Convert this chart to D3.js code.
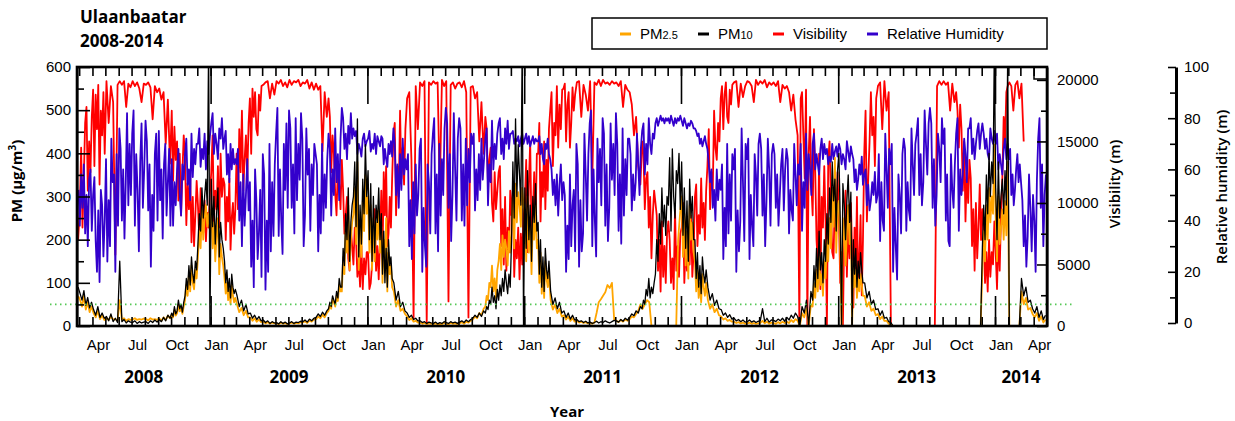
<!DOCTYPE html>
<html>
<head>
<meta charset="utf-8">
<style>
body { margin: 0; background: #fff; }
svg { font-family: "Liberation Sans", Arial, sans-serif; }
.axis text { font-size: 15px; fill: #000; font-family: "Liberation Sans", Arial, sans-serif; }
.axis path, .axis line { stroke: #000; stroke-width: 1.6; }
.bold { font-family: "Open Sans", "DejaVu Sans", sans-serif; font-weight: 700; }
.series { fill: none; stroke-linejoin: round; }
</style>
</head>
<body>
<svg width="1235" height="421"></svg>
<script src="https://d3js.org/d3.v7.min.js"></script>
<script>

// one inner array per month, Feb 2008 .. Apr 2014 (values spread evenly through the month)
var visibility = [
  // 2008
  [null,null,null,null,null,7000],[9500,14500,8000,12000,16500,17800,11000,15000,12500,17000],
  [19200,13000,18800,16000,19600,11500,17500,15500,19000,14000],
  [19900,16500,19500,18200,5800,19600],[19900,19600,19900,17800,19700,19400],[19900,19500,19800,19300,18200,19700],
  [19600,19800,19400,16800,19500,19000],[19300,18400,19000,14800,18400,13200],
  [17500,11800,16200,13500,15000,10200,14000,9000,12500,15500],
  [13600,8200,11600,9500,12200,6800,10500,6500,9000,11800],
  [9800,7200,11200,8500,7600,10200,6900,9200,8000,10800],
  // 2009
  [12500,15500,8500,11000,9500,13000,8000,14000,10500,12000],[11500,7000,10500,8500,12000,6200,8800,10000,7500,9500],
  [14000,9500,16000,12500,17500,11000,13500,15500,12000,16500],[18500,14000,19300,17000,19000,16000,15500,18800,17500,19500],
  [19600,19800,19900,18500,19700,18800],[19900,19700,20000,19500,19800,19400],
  [20000,19600,19900,19800,20000,19500],[19800,19700,20000,19300,19800,19200],[19700,19200,19500,14200,19000,17000],
  [18500,17000,12500,15500,14000,10800,9000,13000,11500,9500],[13500,11000,7500,9000,10500,5500,4500,8000,6500,5000],
  [8000,7000,4000,5500,3200,6500,3000,5500,4200,6000],
  // 2010
  [6000,3000,3500,5000,8000,9500,4500,6500,3800,7000],[11000,5500,12500,9000,13000,6500,7500,10500,8000,12000],
  [15500,16500,9000,13000,10500,17500,12000,14500,11500,16000],
  [18500,19000,13500,600,19500,16000],[19800,19500,19900,200,19800,19600],[19900,19700,19800,11000,20000,19500],
  [19900,2000,19600,19800,19300,19700],[19800,19400,19900,19000,700,19400],[19500,18500,19000,15000,18200,14000],
  [17000,16000,11500,13500,14500,10000,8500,12500,9500,11000],[12500,13000,6500,9500,5000,10500,4500,8000,6000,11000],
  [9000,11000,4000,7000,5500,8000,3800,7500,5000,9500],
  // 2011
  [10000,13500,6000,11500,15000,7500,9000,12500,8000,14000],[14000,16500,8500,12500,10500,15000,9500,13500,11000,16000],
  [17500,19000,13000,16500,15500,19500,14500,18000,16000,19200],[19300,19700,15000,18000,19000,14500,16500,19400,17500,18800],
  [19800,19900,17000,19600,18800,17500],[19900,12000,19800,19600,20000,19500],
  [20000,19700,19800,19600,19900,19700],[19800,19500,19900,17800,19600,19200],[19000,18000,15500,17000,13000,11500],
  [15000,14000,9500,12000,12500,8000,10500,5500,9000,11000],[10000,9000,4500,7000,2800,8500,4000,6500,3500,7500],
  [8500,7000,3500,5500,3000,9500,4500,6500,4000,7500],
  // 2012
  [8000,10000,3500,6500,4500,7500,5000,9000,4000,6000],[10500,11500,6500,9000,7500,12000,8000,10000,7000,11000],
  [13000,16000,9500,12500,11000,17500,14500,13500,16500,15000],[18500,19500,16000,18800,19800,17000,16500,19200,18000,19600],
  [19800,19900,17800,19700,18600,19500],[19900,19800,19500,18200,20000,19600],
  [19900,19700,20000,19400,19800,19600],[19800,19500,19900,18200,19600,19300],[19500,19000,17500,18800,16800,15500],
  [0,18500,19000,15500,12000,19200,0,14000,17000,11500],[9000,16000,12500,7000,5000,14000,3000,10500,8000,13000],
  [8500,0,13500,15000,10000,6000,5500,11000,7500,12500],
  // 2013
  [9000,3500,6000,0,7500,11000,4000,8500,5500,10000],[6000,1500,8000,4500,10500,3000,5500,9000,2500,7000],
  [14000,17500,8500,12000,15000,19000,15500,17000,13000,18500],[19500,19800,16000,19900,17500,19000],
  [0,0,0,0,0,0],[0,0,0,0,0,0],[0,0,0,0,0,0],[0,0,0,19500,19900,19600],[19900,19600,19800,17500,19700,18200],
  [19000,17500,14500,18000,16000,11000,15000,8500,12500,10000],[13500,12000,6500,9500,4500,10000,5500,8000,11500,7000],
  [9500,8000,3500,6000,2800,7000,4000,6000,5000,8500],
  // 2014
  [6000,3000,7500,4500,9000,12000,17000,15000,19000,19500],[19800,19500,17500,19600,19900,18500],
  [19700,15000,null,null,null,null],[null,null,null,null,null,null]
];

var humidity = [
  // 2008
  [null,null,null,null,null,null,null,null,null,52],[38,58,45,62,35,50,30,56,60,36],[50,57,32,20,44,16,52,46,26,40],
  [64,24,48,30,72,55,58,20,66,38],[76,68,40,60,33,55,82,46,70,50],[74,83,38,66,52,28,63,78,45,60],
  [79,71,44,62,22,50,36,66,74,40],[75,48,60,33,62,70,42,55,68,38],[64,38,55,46,60,68,50,42,62,56],
  [66,72,54,60,48,74,57,68,62,70],[70,76,61,68,64,74,60,71,66,73],
  // 2009
  [78,82,66,74,70,64,76,72,80,68],[72,75,58,66,55,70,60,68,62,64],[62,68,40,55,30,58,38,50,64,44],
  [55,22,40,14,60,48,25,35,52,18],[66,58,13,40,20,70,28,55,34,62],[74,84,34,60,40,27,70,52,78,45],
  [83,76,45,62,35,80,48,70,56,82],[72,30,42,76,58,68,36,62,50,70],[66,62,28,50,35,70,40,58,45,64],
  [74,68,42,60,50,76,55,66,48,72],[84,80,68,74,64,77,70,82,72,76],[73,75,66,70,68,65,72,74,69,71],
  // 2010
  [72,75,67,70,68,74,66,73,71,69],[73,72,62,68,64,61,70,66,71,65],[76,70,50,62,45,66,52,72,58,64],
  [60,66,30,48,25,55,35,62,42,50],[68,72,20,45,30,22,62,55,35,66],[74,80,35,58,28,70,42,64,50,76],
  [84,78,45,66,32,50,82,60,40,72],[80,76,40,62,38,72,46,68,55,74],[70,74,44,60,48,66,52,72,56,64],
  [72,76,46,62,55,79,60,70,64,74],[78,80,66,72,64,76,70,79,68,74],[74,75,70,72,71,73,69,72,74,70],
  // 2011
  [72,74,70,73,69,71,73,70,72,71],[71,73,66,70,64,62,70,68,72,66],[64,60,50,56,46,58,42,54,62,48],
  [55,50,20,38,25,58,30,46,52,28],[70,62,22,48,28,35,74,58,40,66],[78,83,30,60,40,26,72,55,68,46],
  [80,74,38,62,32,45,78,56,70,50],[82,70,36,58,31,76,42,64,50,72],[72,66,44,58,48,55,74,62,50,68],
  [75,78,58,70,62,80,70,66,74,72],[78,80,77,79,81,79,80,78,80,79],[80,78,81,79,77,80,78,80,79,81],
  // 2012
  [79,77,80,78,76,78,77,79,78,76],[76,75,73,74,70,72,69,71,73,70],[68,62,55,60,45,52,40,60,48,56],
  [52,62,25,45,30,70,35,58,40,66],[60,68,20,44,28,40,76,55,32,70],[64,72,25,50,38,30,66,58,42,70],
  [74,68,42,58,30,48,72,60,38,66],[70,66,45,58,38,50,62,68,44,60],[68,64,35,52,44,40,70,58,46,62],
  [58,70,36,55,45,74,52,66,60,50],[70,74,60,66,62,58,68,72,64,70],[66,68,62,65,63,70,64,67,69,65],
  // 2013
  [70,68,62,66,64,60,71,67,63,69],[66,64,55,60,52,56,62,58,65,54],[58,60,46,54,44,48,55,50,59,47],
  [50,66,32,55,40,36,74,60,45,68],[62,70,20,45,30,17,58,50,35,66],[72,68,36,55,44,40,76,62,50,70],
  [74,80,50,66,46,55,83,70,58,78],[84,78,45,64,38,50,74,68,55,80],[70,76,40,58,32,30,66,52,45,62],
  [74,80,36,60,50,58,72,66,55,76],[76,80,66,72,64,70,75,78,68,74],[78,74,68,72,66,64,76,72,70,75],
  // 2014
  [70,74,60,66,62,58,68,72,64,70],[64,68,50,58,46,52,60,66,55,62],[55,48,30,42,22,34,58,45,28,50],
  [40,20,56,72,80,45,62,30,50,58]
];

var pm10 = [
  // 2008
  [null,null,null,null,null,90],[75,60,82,48,66,42,55],[38,25,45,20,30,18],
  [22,12,28,10,18,8],[150,10,15,7,12,9],[8,12,6,10,7,9],
  [10,6,12,8,14,9],[15,10,20,12,25,18],[30,22,45,28,35,60,40,50,32,55],
  [70,110,85,140,95,160,120,100,150,130],[190,260,220,320,250,300,340,280,650,0],
  // 2009
  [340,230,300,190,260,320,160,240,200,180],[150,100,130,80,110,65,120,90,75,85],[70,45,60,35,50,28],
  [30,18,25,15,22,12],[14,8,12,6,10,7],[8,5,10,6,9,5],
  [7,10,6,9,8,11],[10,14,9,16,12,18],[20,28,22,32,25,35],
  [40,55,45,70,60,50,80,65,110,90],[90,180,140,260,200,320,150,240,280,300],[380,230,480,160,280,190,340,260,420,300],
  // 2010
  [360,200,330,150,300,170,280,240,320,200],[260,120,220,100,180,90,200,140,160,110],[100,60,80,45,55,35],
  [30,20,25,15,18,12],[12,8,10,6,9,7],[6,9,5,8,6,10],
  [8,6,10,7,9,6],[9,12,8,14,10,15],[18,25,20,30,22,35],
  [30,45,38,60,50,90,55,70,40,85],[60,95,70,110,80,130,100,75,120,90],[200,380,250,480,300,420,350,280,650,0],
  // 2011
  [320,180,360,200,280,150,300,240,330,220],[240,120,200,90,160,80,180,130,110,150],[80,50,65,40,55,30],
  [35,20,30,16,25,14],[15,10,12,8,11,7],[9,6,8,11,7,10],
  [8,12,9,7,10,13],[12,9,15,11,18,14],[20,28,24,35,30,45],
  [40,60,50,85,70,110,65,90,75,100],[120,200,150,260,190,320,230,280,210,300],[280,390,220,410,300,250,360,330,400,270],
  // 2012
  [380,210,320,180,290,150,340,250,300,200],[200,110,170,90,140,75,160,120,100,130],[90,60,75,48,60,40],
  [38,25,30,20,26,16],[18,12,15,10,14,9],[10,14,9,12,8,11],
  [12,40,10,18,9,14],[13,10,16,12,18,11],[20,14,25,18,30,22],
  [0,45,30,60,0,80],[60,140,90,180,110,220,130,170,100,200],[150,260,190,320,240,380,290,340,220,360],
  // 2013
  [400,250,0,330,280,200,290,350,240,310],[0,200,120,180,90,150,110,170,130,100],[100,65,80,50,60,38],
  [40,25,35,18,20,10],[8,0,0,0,0,0],[0,0,0,0,0,0],
  [0,0,0,0,0,0],[0,0,0,0,0,0],[0,0,0,0,0,0],
  [0,0,0,0,0,0],[0,0,0,0,0,0],[180,280,200,350,260,400,300,380,330,650],
  // 2014
  [320,200,380,250,300,340,260,360,280,620],[0,0,0,0,0,0],[110,70,90,55,60,40],
  [30,45,20,35,15,25]
];

var pm25 = [
  // 2008
  [null,null,null,null,null,70],[60,45,70,38,55,32,45],[30,20,35,16,24,14],
  [18,14,22,15,16,12],[60,14,18,12,16,14],[15,18,14,16,15,17],
  [16,13,18,15,16,14],[18,12,20,14,24,18],[26,20,38,24,30,50,34,42,28,45],
  [60,95,70,120,80,140,100,85,130,110],[160,220,180,270,200,250,280,230,260,220],
  // 2009
  [270,180,240,150,210,250,120,190,160,140],[110,75,100,60,85,50,95,70,55,65],[50,32,42,25,35,20],
  [20,12,18,10,15,9],[10,6,9,5,8,6],[6,4,8,5,7,4],
  [6,8,5,7,6,9],[8,11,7,13,10,15],[16,22,18,26,20,30],
  [35,48,40,62,55,45,70,58,95,80],[80,160,120,230,170,280,130,200,240,260],[320,190,380,130,240,160,290,220,350,260],
  // 2010
  [300,170,280,130,250,150,240,200,270,170],[230,100,200,130,250,80,170,120,140,90],[80,45,60,35,40,28],
  [22,14,18,10,12,8],[8,5,7,4,6,5],[4,6,3,5,4,7],
  [5,4,7,5,6,4],[6,9,5,10,8,12],[15,22,18,30,25,40],
  [45,70,60,100,90,140,80,110,65,130],[150,190,130,210,160,200,180,140,220,170],[220,300,180,330,240,310,280,230,320,280],
  // 2011
  [260,150,300,170,230,120,250,200,280,180],[200,100,170,75,130,65,150,110,90,120],[60,38,50,30,40,22],
  [25,15,22,12,18,10],[12,8,10,7,9,6],[7,5,8,30,55,62],
  [70,78,95,88,100,15],[12,9,14,10,15,12],[16,22,20,28,35,50],
  [40,50,60,55,0,0],[0,0,0,0,0,0],[0,0,0,0,0,200,260],
  // 2012
  [300,160,260,140,220,110,280,200,240,170],[150,80,130,65,100,55,120,90,70,100],[60,40,50,32,40,25],
  [22,15,18,12,14,10],[10,7,9,6,8,5],[6,8,5,7,5,6],
  [7,12,6,10,5,8],[7,5,9,6,10,7],[10,7,14,9,16,12],
  [0,30,20,40,0,50],[45,100,65,130,80,160,95,120,70,150],[110,200,150,250,180,320,230,390,170,280],
  // 2013
  [290,180,0,250,220,140,220,280,190,240],[0,150,90,130,65,110,80,120,95,70],[70,45,55,35,40,25],
  [28,16,22,12,12,5],[4,0,0,0,0,0],[0,0,0,0,0,0],
  [0,0,0,0,0,0],[0,0,0,0,0,0],[0,0,0,0,0,0],
  [0,0,0,0,0,0],[0,0,0,0,0,0],[130,220,150,280,200,320,240,300,260,420],
  // 2014
  [250,150,300,190,230,270,200,290,210,380],[0,0,0,0,0,0],[80,50,65,38,42,28],
  [20,30,12,22,8,15]
];

var pmTicks = [0, 100, 200, 300, 400, 500, 600];
var visTicks = [0, 5000, 10000, 15000, 20000];
var rhTicks = [0, 20, 40, 60, 80, 100];
var labelMonths = [0, 3, 6, 9];
var labelNames = ["Jan", "Apr", "Jul", "Oct"];
var years = [2008, 2009, 2010, 2011, 2012, 2013, 2014];
var legendItems = [
  {name: "PM", sub: "2.5", color: "#ffa500", x: 620},
  {name: "PM", sub: "10", color: "#000000", x: 698},
  {name: "Visibility", sub: "", color: "#ff0000", x: 773},
  {name: "Relative Humidity", sub: "", color: "#3300cc", x: 867}
];

var svg = d3.select("svg"),
    margin = {top: 67, right: 188, bottom: 95, left: 77},
    width = 1235 - margin.left - margin.right,
    height = 421 - margin.top - margin.bottom;

var months = d3.timeMonth.range(new Date(2008, 1, 1), new Date(2014, 4, 1));

var x = d3.scaleTime()
    .domain([new Date(2008, 1, 25), new Date(2014, 4, 2)])
    .range([0, width]);
var y = d3.scaleLinear().domain([0, 600]).range([height, 0]);
var yVis = d3.scaleLinear().domain([0, 21050]).range([height, 0]);
var yRH = d3.scaleLinear().domain([0, 100]).range([height - 3, 0]);

function toPoints(series) {
  var pts = [];
  months.forEach(function(m, i) {
    var vals = series[i], next = d3.timeMonth.offset(m, 1);
    vals.forEach(function(v, k) {
      pts.push({date: new Date(+m + (k + 0.5) / vals.length * (next - m)), value: v});
    });
  });
  return pts;
}

var g = svg.append("g").attr("transform", "translate(" + margin.left + "," + margin.top + ")");

g.append("clipPath").attr("id", "plot")
  .append("rect").attr("width", width).attr("height", height);

var plot = g.append("g").attr("clip-path", "url(#plot)");

function drawLine(series, scale, color, w) {
  var line = d3.line()
      .defined(function(d) { return d.value != null; })
      .x(function(d) { return x(d.date); })
      .y(function(d) { return scale(d.value); });
  plot.append("path")
      .datum(toPoints(series))
      .attr("class", "series")
      .attr("stroke", color)
      .attr("stroke-width", w)
      .attr("d", line);
}

drawLine(visibility, yVis, "#ff0000", 1.8);
drawLine(humidity, yRH, "#3300cc", 1.8);
drawLine(pm25, y, "#ffa500", 1.8);
drawLine(pm10, y, "#000000", 1.3);

// 50 ug/m3 guideline
g.append("line")
    .attr("x1", -27).attr("x2", 995)
    .attr("y1", y(50)).attr("y2", y(50))
    .attr("stroke", "#55c855").attr("stroke-width", 1.6)
    .attr("stroke-dasharray", "1.5,3.5");

// frame
g.append("rect")
    .attr("width", width).attr("height", height)
    .attr("fill", "none").attr("stroke", "#000").attr("stroke-width", 2.6);
g.append("rect")
    .attr("x", width - 13).attr("y", 0).attr("width", 13).attr("height", 12)
    .attr("fill", "none").attr("stroke", "#000").attr("stroke-width", 1.5);

// time ticks, top and bottom
function timeTicks(axisFn, yPos, interval, size) {
  g.append("g").attr("class", "axis")
      .attr("transform", "translate(0," + yPos + ")")
      .call(axisFn(x).ticks(interval).tickSize(-size).tickSizeOuter(0).tickFormat(""))
      .call(function(a) { a.select(".domain").remove(); });
}
timeTicks(d3.axisTop, 0, d3.timeMonth.every(1), 9);
timeTicks(d3.axisTop, 0, d3.timeYear.every(1), 37);
timeTicks(d3.axisBottom, height, d3.timeMonth.every(1), 9);
timeTicks(d3.axisBottom, height, d3.timeYear.every(1), 30);

// month labels
var labelDates = months.filter(function(m) { return labelMonths.indexOf(m.getMonth()) >= 0; })
    .map(function(m) { return new Date(m.getFullYear(), m.getMonth(), 15); })
    .filter(function(d) { return x(d) > 0 && x(d) < width; });
g.append("g").selectAll("text")
  .data(labelDates).enter().append("text")
    .attr("x", function(d) { return x(d); })
    .attr("y", height + 24)
    .attr("text-anchor", "middle")
    .style("font-size", "15px")
    .text(function(d) { return labelNames[labelMonths.indexOf(d.getMonth())]; });

// year labels centred on the visible part of each year
g.append("g").selectAll("text")
  .data(years).enter().append("text")
    .attr("class", "bold")
    .attr("x", function(yr) {
      var a = Math.max(0, x(new Date(yr, 0, 1))), b = Math.min(width, x(new Date(yr + 1, 0, 1)));
      return (a + b) / 2;
    })
    .attr("y", height + 57)
    .attr("text-anchor", "middle")
    .style("font-size", "17px")
    .text(function(d) { return d; });

g.append("text").attr("class", "bold")
    .attr("x", 490).attr("y", height + 91)
    .attr("text-anchor", "middle").style("font-size", "15px")
    .text("Year");

// left PM axis
g.append("g").attr("class", "axis")
    .call(d3.axisLeft(y).tickValues(pmTicks).tickSize(-13).tickSizeOuter(0).tickPadding(6));
g.append("g").attr("class", "axis")
    .call(d3.axisLeft(y).tickValues([50, 150, 250, 350, 450, 550]).tickSize(-7).tickSizeOuter(0).tickFormat(""));

// right visibility axis
g.append("g").attr("class", "axis")
    .attr("transform", "translate(" + width + ",0)")
    .call(d3.axisRight(yVis).tickValues(visTicks).tickSize(-10).tickSizeOuter(0).tickPadding(10)
      .tickFormat(d3.format("d")));
g.append("g").attr("class", "axis")
    .attr("transform", "translate(" + width + ",0)")
    .call(d3.axisRight(yVis).tickValues([2500, 7500, 12500, 17500]).tickSize(-6).tickSizeOuter(0).tickFormat(""));

// separate humidity axis
var rhAxis = g.append("g").attr("class", "axis")
    .attr("transform", "translate(1099,0)")
    .call(d3.axisRight(yRH).tickValues(rhTicks).tickSize(-8).tickSizeOuter(0).tickPadding(8));
rhAxis.select(".domain").style("stroke-width", 3);
g.append("g").attr("class", "axis")
    .attr("transform", "translate(1099,0)")
    .call(d3.axisRight(yRH).tickValues([10, 30, 50, 70, 90]).tickSize(-6).tickSizeOuter(0).tickFormat(""))
    .call(function(a) { a.select(".domain").remove(); });

// axis titles
var pmTitle = svg.append("text").attr("class", "bold")
    .attr("transform", "translate(22,181) rotate(-90)")
    .attr("text-anchor", "middle").style("font-size", "15px");
pmTitle.append("tspan").text("PM (µg/m");
pmTitle.append("tspan").attr("dy", -6).style("font-size", "10px").text("3");
pmTitle.append("tspan").attr("dy", 6).text(")");

svg.append("text").attr("class", "bold")
    .attr("transform", "translate(1120,184) rotate(-90)")
    .attr("text-anchor", "middle").style("font-size", "15px").style("font-weight", 600)
    .text("Visibility (m)");
svg.append("text").attr("class", "bold")
    .attr("transform", "translate(1227,187) rotate(-90)")
    .attr("text-anchor", "middle").style("font-size", "15px").style("font-weight", 600)
    .text("Relative humidity (m)");

// two-line title
svg.append("text").attr("class", "bold").attr("x", 80).attr("y", 23)
    .style("font-size", "17px").text("Ulaanbaatar");
svg.append("text").attr("class", "bold").attr("x", 80).attr("y", 47)
    .style("font-size", "17px").text("2008-2014");

// legend
svg.append("rect")
    .attr("x", 592).attr("y", 18).attr("width", 455).attr("height", 31)
    .attr("fill", "#fff").attr("stroke", "#000").attr("stroke-width", 1.5);
var leg = svg.append("g").selectAll("g").data(legendItems).enter().append("g");
leg.append("line")
    .attr("x1", function(d) { return d.x; }).attr("x2", function(d) { return d.x + 11; })
    .attr("y1", 34).attr("y2", 34)
    .attr("stroke", function(d) { return d.color; }).attr("stroke-width", 3);
var legText = leg.append("text")
    .attr("x", function(d) { return d.x + 20; }).attr("y", 39)
    .style("font-size", "15px");
legText.append("tspan").text(function(d) { return d.name; });
legText.append("tspan").style("font-size", "11px").text(function(d) { return d.sub; });

</script>
</body>
</html>
